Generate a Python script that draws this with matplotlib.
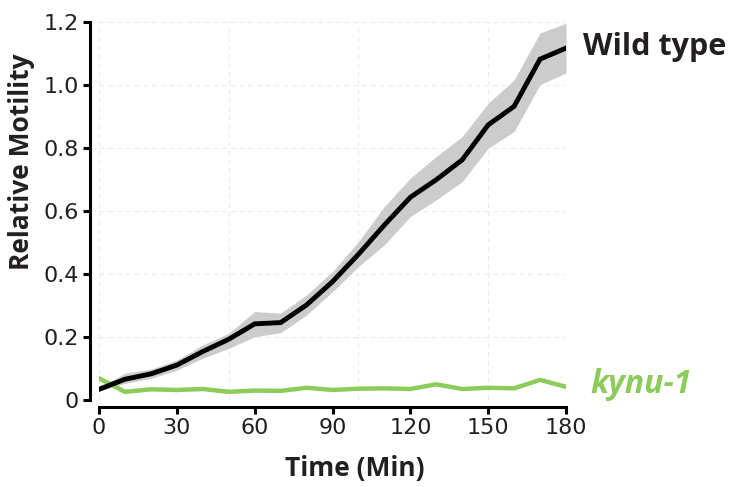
import matplotlib.pyplot as plt
import numpy as np

# time points (min)
time = [0, 10, 20, 30, 40, 50, 60, 70, 80, 90,
        100, 110, 120, 130, 140, 150, 160, 170, 180]

# wild type mean and shaded band
wt_mean = [0.034, 0.066, 0.083, 0.111, 0.154, 0.193, 0.242, 0.246, 0.302, 0.376,
           0.463, 0.556, 0.644, 0.700, 0.763, 0.874, 0.933, 1.083, 1.118]
wt_upper = [0.040, 0.085, 0.098, 0.127, 0.175, 0.212, 0.281, 0.276, 0.334, 0.408,
            0.503, 0.615, 0.705, 0.774, 0.837, 0.943, 1.017, 1.166, 1.197]
wt_lower = [0.028, 0.053, 0.069, 0.095, 0.133, 0.164, 0.201, 0.214, 0.270, 0.344,
            0.424, 0.493, 0.583, 0.636, 0.694, 0.800, 0.853, 1.002, 1.039]

# kynu-1 mean
kynu_mean = [0.069, 0.026, 0.034, 0.032, 0.035, 0.026, 0.030, 0.029, 0.039, 0.032,
             0.036, 0.037, 0.035, 0.050, 0.035, 0.039, 0.037, 0.064, 0.042]

xticks = [0, 30, 60, 90, 120, 150, 180]
xgrid = [0, 50, 100, 150]
yticks = [0, 0.2, 0.4, 0.6, 0.8, 1.0, 1.2]
ytick_labels = ['0', '0.2', '0.4', '0.6', '0.8', '1.0', '1.2']

txt = '#231f20'
green = '#8dcb5b'
narrow = 'Liberation Sans Narrow'

fig = plt.figure(figsize=(7.34, 4.87), dpi=100)
ax = fig.add_axes([0.1349, 0.1786, 0.6362, 0.7756])

for y in yticks:
    ax.axhline(y, color='#ebebeb', lw=0.7, ls=(0, (5, 4)), zorder=0)
for x in xgrid:
    ax.axvline(x, color='#ebebeb', lw=0.7, ls=(0, (5, 4)), zorder=0)

ax.fill_between(time, wt_lower, wt_upper, color='#cccccc', lw=0, zorder=1)
ax.plot(time, wt_mean, color='black', lw=3.5, solid_joinstyle='miter', zorder=3)
ax.plot(time, kynu_mean, color=green, lw=3.2, zorder=2)

# spines first (set_position resets the ticks)
for s in ['top', 'right']:
    ax.spines[s].set_visible(False)
ax.spines['left'].set_position(('outward', 6.5))
ax.spines['bottom'].set_position(('outward', 5))
ax.spines['left'].set_linewidth(2.2)
ax.spines['bottom'].set_linewidth(2.2)

ax.set_xlim(0, 180)
ax.set_ylim(0, 1.2)
ax.set_xticks(xticks)
ax.set_xticklabels([str(t) for t in xticks])
ax.set_yticks(yticks)
ax.set_yticklabels(ytick_labels)
ax.tick_params(axis='both', width=2.2, length=5, color='black', pad=3,
               labelsize=16, labelcolor=txt, labelfontfamily=narrow)

ax.set_xlabel('Time (Min)', family='Open Sans', weight='bold', fontsize=19, color=txt, va='center')
ax.set_ylabel('Relative Motility', family='Open Sans', weight='bold', fontsize=19, color=txt, va='center')
ax.xaxis.set_label_coords(0.548, -0.18)
ax.yaxis.set_label_coords(-0.165, 0.63)

ax.text(186.6, 1.122, 'Wild type', family='Open Sans', weight='bold', fontsize=22,
        color=txt, va='center', ha='left', clip_on=False)
ax.text(189.3, 0.048, 'kynu-1', family='Open Sans', weight='bold', style='italic',
        fontsize=23, color=green, va='center', ha='left', clip_on=False)

fig.savefig('out.png', dpi=100)
